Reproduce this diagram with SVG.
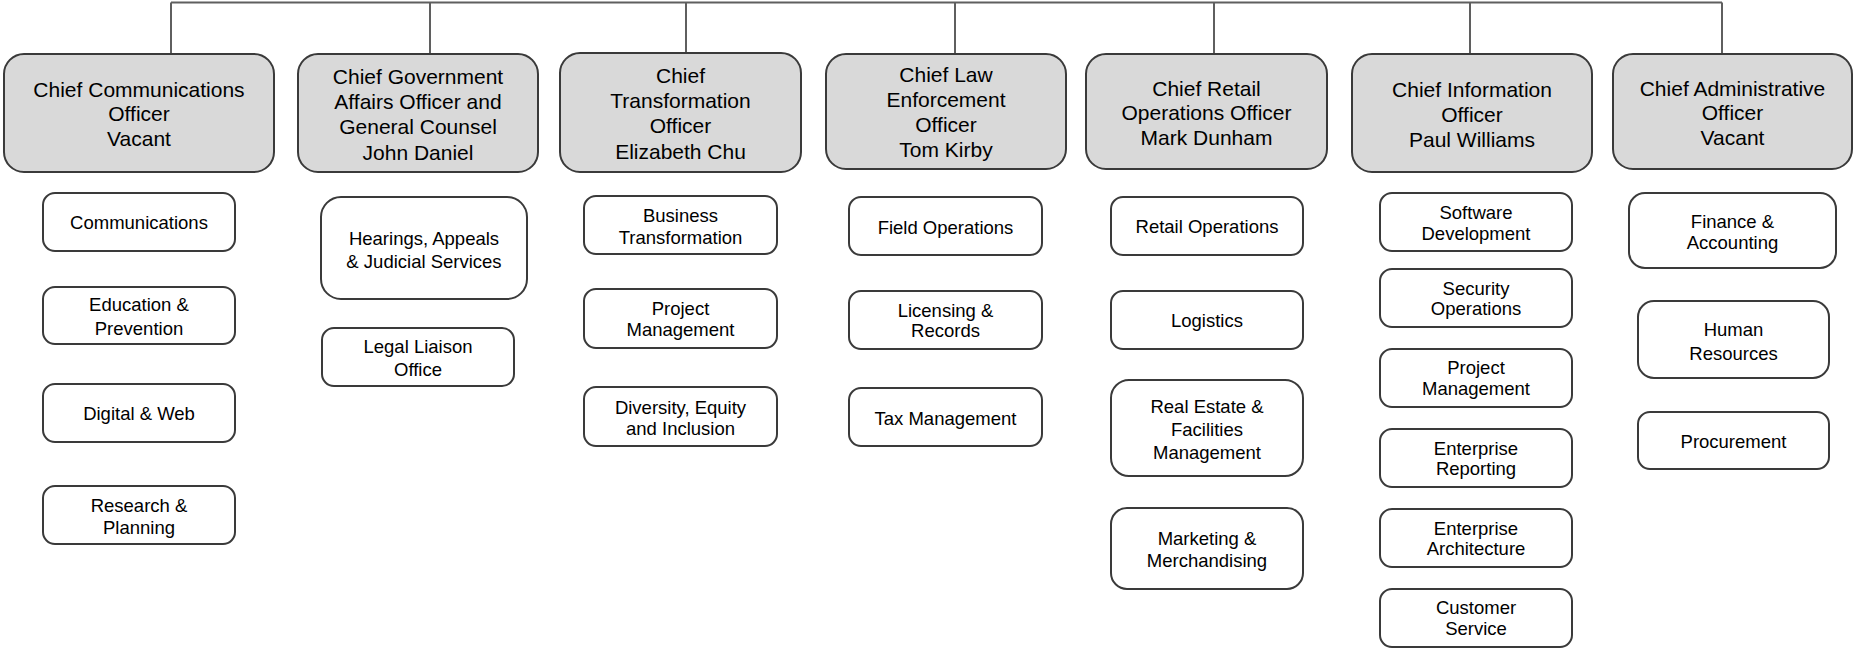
<svg xmlns="http://www.w3.org/2000/svg" width="1854" height="650" viewBox="0 0 1854 650">
<style>
.top{fill:#d9d9d9;stroke:#3a3a3a;stroke-width:2}
.sub{fill:#ffffff;stroke:#3a3a3a;stroke-width:2}
.tt{font-family:"Liberation Sans",Arial,sans-serif;font-size:21px;fill:#000;text-anchor:middle}
.st{font-family:"Liberation Sans",Arial,sans-serif;font-size:18.5px;fill:#000;text-anchor:middle}
.conn{stroke:#5f5f5f;stroke-width:2;fill:none}
</style>
<rect width="1854" height="650" fill="#ffffff"/>
<g id="connectors">
<path class="conn" d="M171 2.5H1722M171 2.5V54M430 2.5V54M686 2.5V53M955 2.5V54M1214 2.5V54M1470 2.5V54M1722 2.5V54"/>
</g>
<g id="cco">
<rect class="top" x="4" y="54" width="270" height="118" rx="20"/>
<text class="tt"><tspan x="139" y="96.5">Chief Communications</tspan><tspan x="139" y="121">Officer</tspan><tspan x="139" y="146">Vacant</tspan></text>
</g>
<g id="cgao">
<rect class="top" x="298" y="54" width="240" height="118" rx="20"/>
<text class="tt"><tspan x="418" y="84">Chief Government</tspan><tspan x="418" y="109">Affairs Officer and</tspan><tspan x="418" y="134">General Counsel</tspan><tspan x="418" y="159.5">John Daniel</tspan></text>
</g>
<g id="cto">
<rect class="top" x="560" y="53" width="241" height="119" rx="20"/>
<text class="tt"><tspan x="680.5" y="83">Chief</tspan><tspan x="680.5" y="108">Transformation</tspan><tspan x="680.5" y="133">Officer</tspan><tspan x="680.5" y="159">Elizabeth Chu</tspan></text>
</g>
<g id="cleo">
<rect class="top" x="826" y="54" width="240" height="115" rx="20"/>
<text class="tt"><tspan x="946" y="82">Chief Law</tspan><tspan x="946" y="107">Enforcement</tspan><tspan x="946" y="132">Officer</tspan><tspan x="946" y="157">Tom Kirby</tspan></text>
</g>
<g id="croo">
<rect class="top" x="1086" y="54" width="241" height="115" rx="20"/>
<text class="tt"><tspan x="1206.5" y="95.5">Chief Retail</tspan><tspan x="1206.5" y="120">Operations Officer</tspan><tspan x="1206.5" y="145">Mark Dunham</tspan></text>
</g>
<g id="cio">
<rect class="top" x="1352" y="54" width="240" height="118" rx="20"/>
<text class="tt"><tspan x="1472" y="97">Chief Information</tspan><tspan x="1472" y="121.5">Officer</tspan><tspan x="1472" y="146.5">Paul Williams</tspan></text>
</g>
<g id="cao">
<rect class="top" x="1613" y="54" width="239" height="115" rx="20"/>
<text class="tt"><tspan x="1732.5" y="95.5">Chief Administrative</tspan><tspan x="1732.5" y="120">Officer</tspan><tspan x="1732.5" y="145">Vacant</tspan></text>
</g>
<!-- column 1 -->
<g id="communications"><rect class="sub" x="43" y="193" width="192" height="58" rx="12"/><text class="st" x="139" y="228.5">Communications</text></g>
<g id="education"><rect class="sub" x="43" y="287" width="192" height="57" rx="12"/><text class="st"><tspan x="139" y="311">Education &amp;</tspan><tspan x="139" y="335">Prevention</tspan></text></g>
<g id="digital"><rect class="sub" x="43" y="384" width="192" height="58" rx="12"/><text class="st" x="139" y="420">Digital &amp; Web</text></g>
<g id="research"><rect class="sub" x="43" y="486" width="192" height="58" rx="12"/><text class="st"><tspan x="139" y="511.5">Research &amp;</tspan><tspan x="139" y="533.5">Planning</tspan></text></g>
<!-- column 2 -->
<g id="hearings"><rect class="sub" x="321" y="197" width="206" height="102" rx="20"/><text class="st"><tspan x="424" y="245">Hearings, Appeals</tspan><tspan x="424" y="267.5">&amp; Judicial Services</tspan></text></g>
<g id="legal"><rect class="sub" x="322" y="328" width="192" height="58" rx="12"/><text class="st"><tspan x="418" y="352.5">Legal Liaison</tspan><tspan x="418" y="375.5">Office</tspan></text></g>
<!-- column 3 -->
<g id="business"><rect class="sub" x="584" y="196" width="193" height="58" rx="12"/><text class="st"><tspan x="680.5" y="221.5">Business</tspan><tspan x="680.5" y="243.5">Transformation</tspan></text></g>
<g id="project1"><rect class="sub" x="584" y="289" width="193" height="59" rx="12"/><text class="st"><tspan x="680.5" y="315">Project</tspan><tspan x="680.5" y="336">Management</tspan></text></g>
<g id="diversity"><rect class="sub" x="584" y="387" width="193" height="59" rx="12"/><text class="st"><tspan x="680.5" y="414">Diversity, Equity</tspan><tspan x="680.5" y="434.5">and Inclusion</tspan></text></g>
<!-- column 4 -->
<g id="field"><rect class="sub" x="849" y="197" width="193" height="58" rx="12"/><text class="st" x="945.5" y="234">Field Operations</text></g>
<g id="licensing"><rect class="sub" x="849" y="291" width="193" height="58" rx="12"/><text class="st"><tspan x="945.5" y="316.5">Licensing &amp;</tspan><tspan x="945.5" y="337">Records</tspan></text></g>
<g id="tax"><rect class="sub" x="849" y="388" width="193" height="58" rx="12"/><text class="st" x="945.5" y="425">Tax Management</text></g>
<!-- column 5 -->
<g id="retail"><rect class="sub" x="1111" y="197" width="192" height="58" rx="12"/><text class="st" x="1207" y="233">Retail Operations</text></g>
<g id="logistics"><rect class="sub" x="1111" y="291" width="192" height="58" rx="12"/><text class="st" x="1207" y="326.5">Logistics</text></g>
<g id="realestate"><rect class="sub" x="1111" y="380" width="192" height="96" rx="18"/><text class="st"><tspan x="1207" y="412.5">Real Estate &amp;</tspan><tspan x="1207" y="436">Facilities</tspan><tspan x="1207" y="458.5">Management</tspan></text></g>
<g id="marketing"><rect class="sub" x="1111" y="508" width="192" height="81" rx="16"/><text class="st"><tspan x="1207" y="545">Marketing &amp;</tspan><tspan x="1207" y="566.5">Merchandising</tspan></text></g>
<!-- column 6 -->
<g id="software"><rect class="sub" x="1380" y="193" width="192" height="58" rx="12"/><text class="st"><tspan x="1476" y="218.5">Software</tspan><tspan x="1476" y="240">Development</tspan></text></g>
<g id="security"><rect class="sub" x="1380" y="269" width="192" height="58" rx="12"/><text class="st"><tspan x="1476" y="294.5">Security</tspan><tspan x="1476" y="315">Operations</tspan></text></g>
<g id="project2"><rect class="sub" x="1380" y="349" width="192" height="58" rx="12"/><text class="st"><tspan x="1476" y="374">Project</tspan><tspan x="1476" y="395">Management</tspan></text></g>
<g id="reporting"><rect class="sub" x="1380" y="429" width="192" height="58" rx="12"/><text class="st"><tspan x="1476" y="454.5">Enterprise</tspan><tspan x="1476" y="475">Reporting</tspan></text></g>
<g id="architecture"><rect class="sub" x="1380" y="509" width="192" height="58" rx="12"/><text class="st"><tspan x="1476" y="534.5">Enterprise</tspan><tspan x="1476" y="555">Architecture</tspan></text></g>
<g id="customer"><rect class="sub" x="1380" y="589" width="192" height="58" rx="12"/><text class="st"><tspan x="1476" y="614">Customer</tspan><tspan x="1476" y="635">Service</tspan></text></g>
<!-- column 7 -->
<g id="finance"><rect class="sub" x="1629" y="193" width="207" height="75" rx="16"/><text class="st"><tspan x="1732.5" y="227.5">Finance &amp;</tspan><tspan x="1732.5" y="249">Accounting</tspan></text></g>
<g id="human"><rect class="sub" x="1638" y="301" width="191" height="77" rx="16"/><text class="st"><tspan x="1733.5" y="335.5">Human</tspan><tspan x="1733.5" y="359.5">Resources</tspan></text></g>
<g id="procurement"><rect class="sub" x="1638" y="412" width="191" height="57" rx="12"/><text class="st" x="1733.5" y="447.5">Procurement</text></g>
</svg>
